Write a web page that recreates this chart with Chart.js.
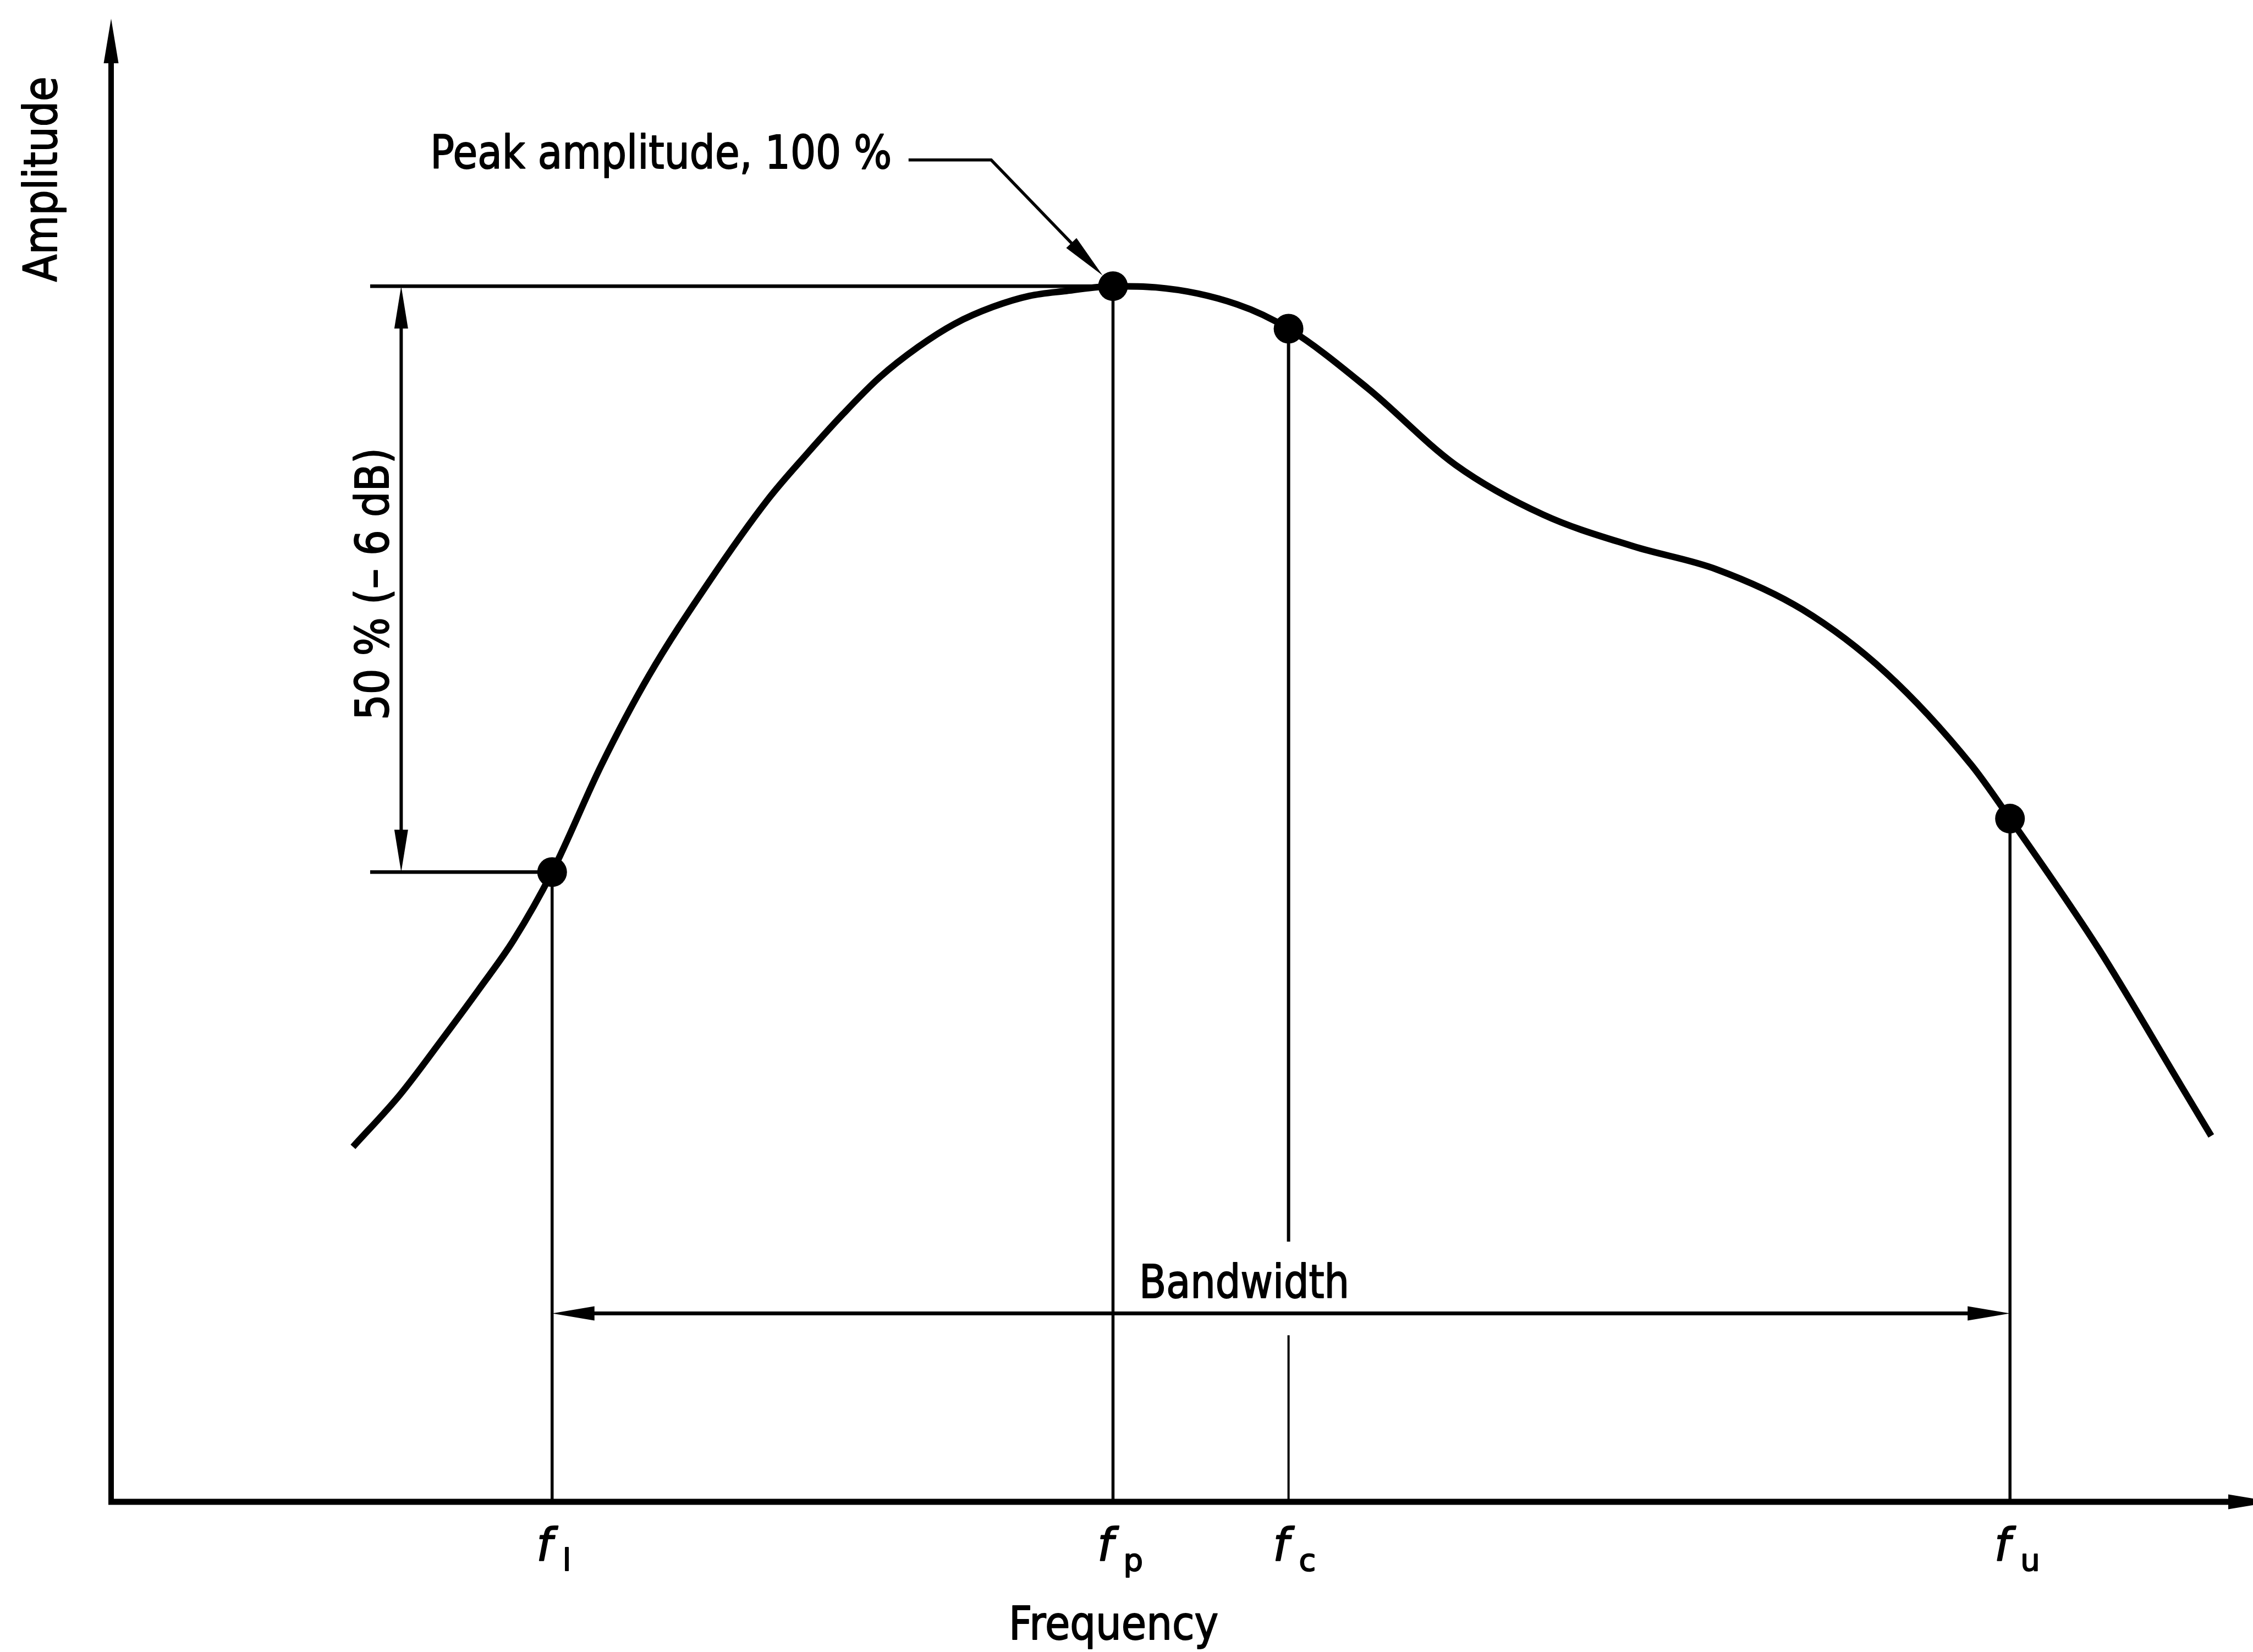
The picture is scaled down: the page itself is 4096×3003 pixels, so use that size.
<!DOCTYPE html>
<html>
<head>
<meta charset="utf-8">
<script src="https://cdn.jsdelivr.net/npm/chart.js@4.4.0/dist/chart.umd.min.js"></script>
<style>
html, body { margin: 0; padding: 0; background: #fff; }
canvas { display: block; }
</style>
</head>
<body>
<canvas id="chart" width="4096" height="3003"></canvas>
<script>
// curve: frequency (0 = amplitude axis, 100 = arrow tip), amplitude in % of peak
var frequency = [11.3, 13.5, 15.4, 17.2, 18.8, 20.6, 22.9, 25.1, 27.9, 30.7, 32.5, 34.2, 35.9, 37.7, 39.4,
    41.2, 42.9, 44.6, 46.8, 48.8, 52.6, 55.0, 58.7, 62.8, 66.9, 71.1, 75.0, 79.0, 82.9, 86.9, 88.7,
    92.8, 96.7, 98.1];
var amplitude = [29.2, 33.5, 37.9, 42.2, 46.2, 51.8, 60.6, 67.9, 75.6, 82.5, 86.2, 89.5, 92.5, 95.0, 96.9,
    98.3, 99.2, 99.6, 100, 99.9, 98.5, 96.5, 91.6, 85.3, 81.2, 78.6, 76.7, 73.4, 68.2, 60.6, 56.2,
    45.6, 34.2, 30.1];

// marked points: f_l, f_p, f_c, f_u
var markerLabels = ['l', 'p', 'c', 'u'];
var markerFrequency = [20.6, 46.8, 55.0, 88.7];
var markerAmplitude = [51.8, 100, 96.5, 56.2];

var amplitudeTitle = 'Amplitude';
var frequencyTitle = 'Frequency';
var peakText = 'Peak amplitude, 100 %';
var levelText = '50 % (\u2013 6 dB)';
var bandwidthText = 'Bandwidth';

var FONT = "'DejaVu Sans', 'Liberation Sans', sans-serif";

function line(ctx, x1, y1, x2, y2, w) {
    ctx.lineWidth = w;
    ctx.beginPath();
    ctx.moveTo(x1, y1);
    ctx.lineTo(x2, y2);
    ctx.stroke();
}

// filled slim arrow head, tip at (x, y), pointing along angle
function arrowHead(ctx, x, y, angle, len, wid) {
    ctx.save();
    ctx.translate(x, y);
    ctx.rotate(angle);
    ctx.beginPath();
    ctx.moveTo(0, 0);
    ctx.lineTo(-len, -wid / 2);
    ctx.lineTo(-len, wid / 2);
    ctx.closePath();
    ctx.fill();
    ctx.restore();
}

// text squeezed to a given width (the drawing uses a narrow lettering)
function label(ctx, txt, x, y, font, width, align, rotate) {
    ctx.save();
    ctx.translate(x, y);
    if (rotate) ctx.rotate(-Math.PI / 2);
    ctx.font = font;
    ctx.textAlign = align;
    ctx.textBaseline = 'alphabetic';
    if (width) {
        var w = ctx.measureText(txt).width;
        ctx.scale(width / w, 1);
    }
    ctx.lineWidth = 2;
    ctx.lineJoin = 'round';
    ctx.strokeText(txt, 0, 0);
    ctx.fillText(txt, 0, 0);
    ctx.restore();
}

var drawing = {
    id: 'drawing',
    afterDatasetsDraw: function (chart) {
        var ctx = chart.ctx;
        var area = chart.chartArea;
        var xs = chart.scales.x, ys = chart.scales.y;
        var px = function (v) { return xs.getPixelForValue(v); };
        var py = function (v) { return ys.getPixelForValue(v); };

        ctx.save();
        ctx.fillStyle = '#000';
        ctx.strokeStyle = '#000';
        ctx.lineCap = 'butt';

        // axes with arrows
        line(ctx, area.left, area.bottom + 5, area.left, area.top + 60, 10);
        arrowHead(ctx, area.left, area.top, -Math.PI / 2, 81, 27);
        line(ctx, area.left - 5, area.bottom, area.right, area.bottom, 11);
        arrowHead(ctx, area.right + 38, area.bottom, 0, 81, 27);

        var fl = 0, fp = 1, fc = 2, fu = 3;
        var dimX = 13.55, extStart = 12.1;

        // extension lines for peak and 50 % level
        line(ctx, px(extStart), py(markerAmplitude[fp]), px(markerFrequency[fp]), py(markerAmplitude[fp]), 6.5);
        line(ctx, px(extStart), py(markerAmplitude[fl]), px(markerFrequency[fl]), py(markerAmplitude[fl]), 6.5);

        // dimension between peak and 50 %
        line(ctx, px(dimX), py(markerAmplitude[fp]) + 40, px(dimX), py(markerAmplitude[fl]) - 40, 6);
        arrowHead(ctx, px(dimX), py(markerAmplitude[fp]), -Math.PI / 2, 77, 25);
        arrowHead(ctx, px(dimX), py(markerAmplitude[fl]), Math.PI / 2, 77, 25);
        label(ctx, levelText, px(12.95), py(75.5), '84px ' + FONT, 495, 'center', true);

        // verticals from the marked points down to the frequency axis
        for (var i = 0; i < markerFrequency.length; i++) {
            var x = px(markerFrequency[i]);
            if (i === fc) {
                line(ctx, x, py(markerAmplitude[i]), x, py(21.4), 6);
                line(ctx, x, py(13.7), x, area.bottom, 4);
            } else {
                line(ctx, x, py(markerAmplitude[i]), x, area.bottom, 5.5);
            }
            label(ctx, 'f', x - 14, py(-4.8), 'italic 82px ' + FONT, 0, 'center', false);
            label(ctx, markerLabels[i], x + 19, py(-5.67), '56px ' + FONT, 0, 'left', false);
        }

        // bandwidth
        var bwY = py(15.5);
        line(ctx, px(markerFrequency[fl]) + 40, bwY, px(markerFrequency[fu]) - 40, bwY, 7);
        arrowHead(ctx, px(markerFrequency[fl]), bwY, Math.PI, 77, 26);
        arrowHead(ctx, px(markerFrequency[fu]), bwY, 0, 77, 26);
        label(ctx, bandwidthText, px(52.93), py(16.8), '84px ' + FONT, 382, 'center', false);

        // leader to the peak
        var lx1 = px(37.25), lx2 = px(41.11), ly = py(110.38);
        var cx = px(markerFrequency[fp]), cy = py(markerAmplitude[fp]);
        var dx = cx - lx2, dy = cy - ly, d = Math.sqrt(dx * dx + dy * dy);
        var tx = cx - dx / d * 27, ty = cy - dy / d * 27;
        ctx.lineJoin = 'miter';
        ctx.lineWidth = 5.5;
        ctx.beginPath();
        ctx.moveTo(lx1, ly);
        ctx.lineTo(lx2, ly);
        ctx.lineTo(tx - dx / d * 40, ty - dy / d * 40);
        ctx.stroke();
        arrowHead(ctx, tx, ty, Math.atan2(dy, dx), 82, 26);
        label(ctx, peakText, px(14.91), py(109.68), '84px ' + FONT, 839, 'left', false);

        // axis titles
        label(ctx, amplitudeTitle, px(-2.55), py(108.8), '84px ' + FONT, 373, 'center', true);
        label(ctx, frequencyTitle, px(46.83), py(-11.3), '84px ' + FONT, 381, 'center', false);

        ctx.restore();
    }
};

var points = frequency.map(function (f, i) { return { x: f, y: amplitude[i] }; });
var markers = markerFrequency.map(function (f, i) { return { x: f, y: markerAmplitude[i] }; });

var ctx = document.getElementById('chart').getContext('2d');
var myChart = new Chart(ctx, {
    type: 'line',
    data: {
        datasets: [
            {
                label: 'Response',
                data: points,
                borderColor: '#000',
                borderWidth: 12,
                pointRadius: 0,
                cubicInterpolationMode: 'monotone',
                fill: false
            },
            {
                label: 'Marked points',
                data: markers,
                showLine: false,
                pointRadius: 27,
                pointBackgroundColor: '#000',
                pointBorderColor: '#000',
                pointBorderWidth: 0
            }
        ]
    },
    options: {
        responsive: false,
        animation: false,
        devicePixelRatio: 1,
        layout: { autoPadding: false, padding: { left: 202, right: 2, top: 34, bottom: 273 } },
        scales: {
            x: { type: 'linear', min: 0, max: 100, display: false },
            y: { type: 'linear', min: 0, max: 122, display: false }
        },
        plugins: {
            legend: { display: false },
            tooltip: { enabled: false }
        },
        events: []
    },
    plugins: [drawing]
});
</script>
</body>
</html>
